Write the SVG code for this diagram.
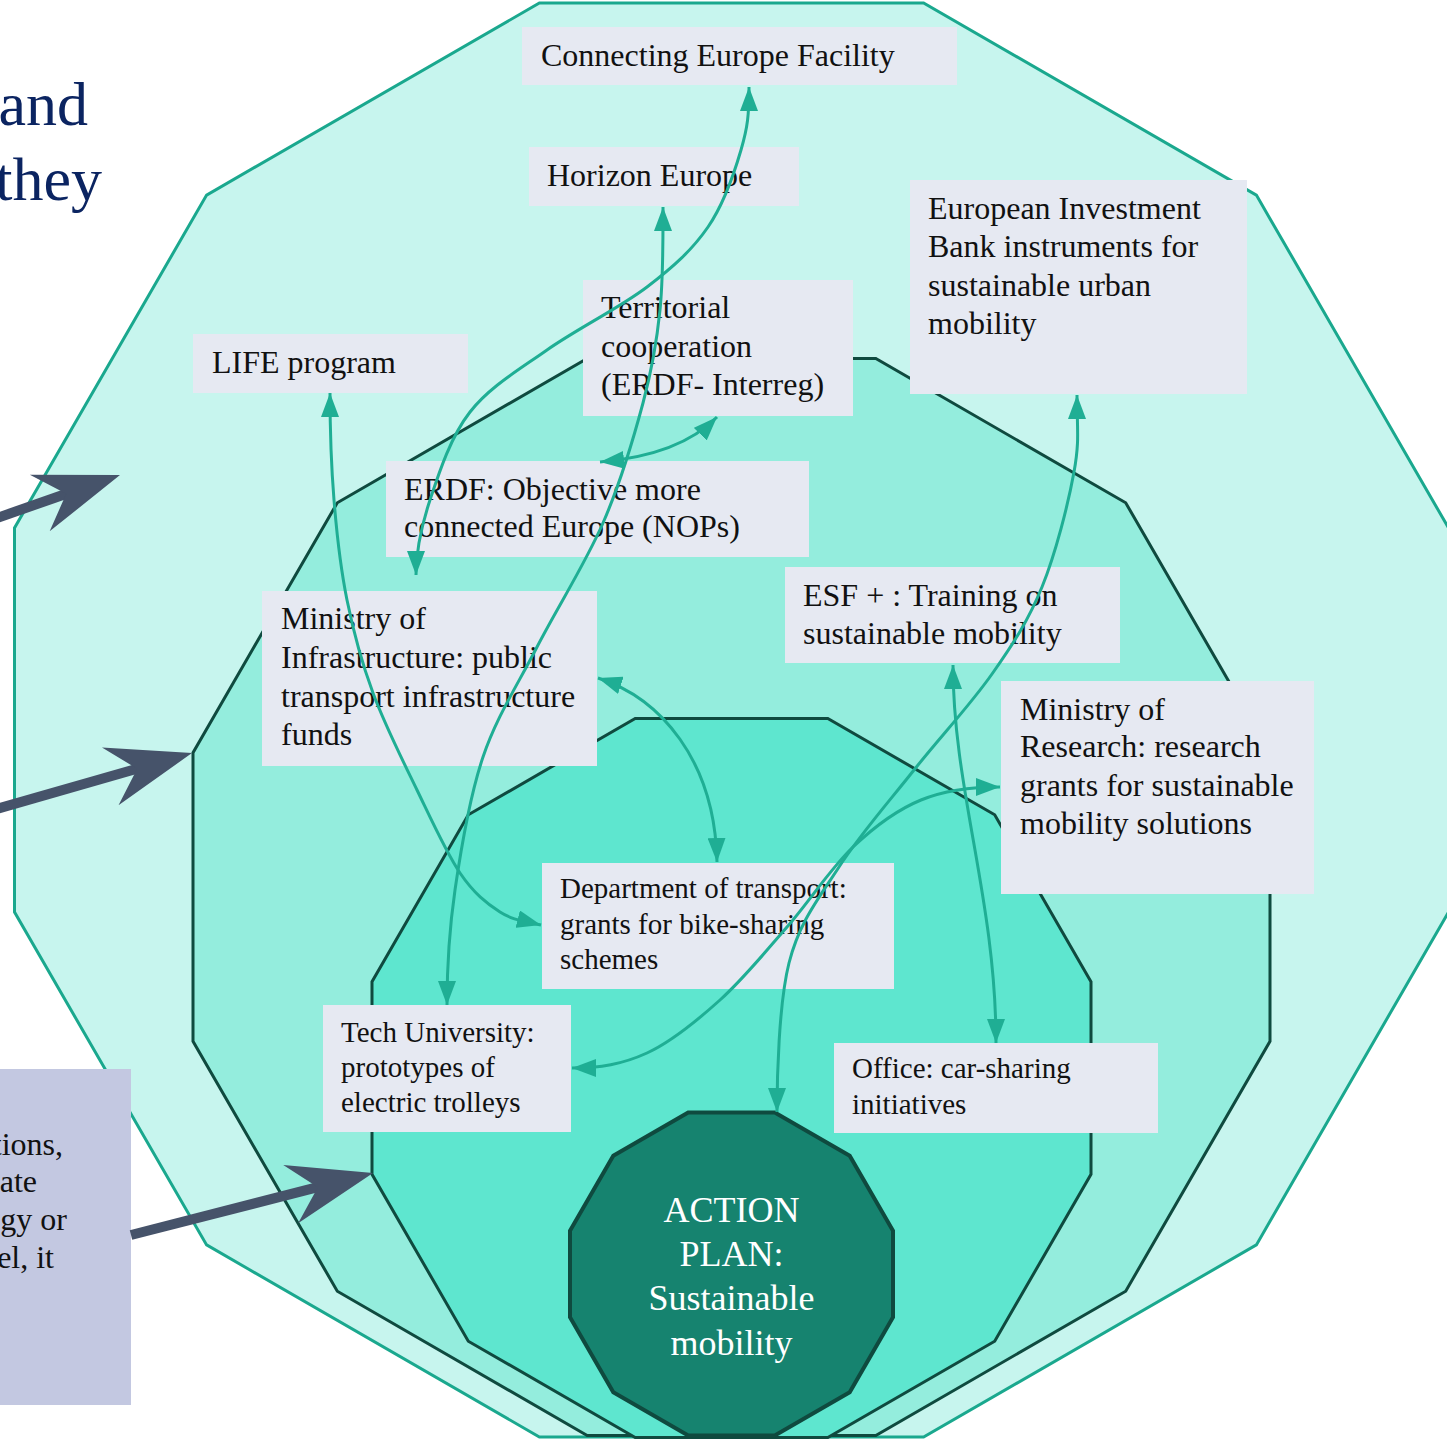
<svg xmlns="http://www.w3.org/2000/svg" width="1447" height="1440" viewBox="0 0 1447 1440">
<style>
.ring1{fill:#c7f5ee;stroke:#1aa88e;stroke-width:3;stroke-linejoin:miter}
.ring2{fill:#94eddd;stroke:#0f4a3f;stroke-width:3}
.ring3{fill:#5ee6cf;stroke:#0f4a3f;stroke-width:3}
.core{fill:#16836f;stroke:#0f4a3f;stroke-width:4}
.box{fill:#e6e9f2}
.t{font-family:"Liberation Serif","Times New Roman",serif;font-size:32px;fill:#111}
.ts{font-family:"Liberation Serif","Times New Roman",serif;font-size:29px;fill:#111}
.core-t{font-family:"Liberation Serif","Times New Roman",serif;font-size:36px;fill:#ffffff;text-anchor:middle}
.title{font-family:"Liberation Serif","Times New Roman",serif;font-size:62px;fill:#0b2461;text-anchor:end}
.conn{fill:none;stroke:#1fae94;stroke-width:3;marker-start:url(#ah);marker-end:url(#ah)}
.big{fill:none;stroke:#46536a;stroke-width:10;marker-end:url(#bigh)}
</style>
<defs>
<marker id="ah" markerUnits="userSpaceOnUse" viewBox="0 0 24 18" markerWidth="24" markerHeight="18" refX="24" refY="9" orient="auto-start-reverse">
<path d="M0,0 L24,9 L0,18 Z" fill="#1fae94"/>
</marker>
<marker id="bigh" markerUnits="userSpaceOnUse" viewBox="-90 -35 100 70" markerWidth="100" markerHeight="70" refX="-50" refY="0" orient="auto">
<path d="M0,0 L-85,-30 L-57,0 L-85,30 Z" fill="#46536a"/>
</marker>
</defs>

<g id="title-fragment">
<text class="title" x="88" y="125">and</text>
<text class="title" x="102" y="200">they</text>
</g>

<g id="ring-outer"><polygon class="ring1" points="1448.5,527.9 1256.4,195.1 923.6,3 539.4,3 206.6,195.1 14.5,527.9 14.5,912.1 206.6,1244.9 539.4,1437 923.6,1437 1256.4,1244.9 1448.5,912.1"/></g>
<g id="ring-middle"><polygon class="ring2" points="1270,752.7 1125.7,502.8 875.8,358.5 587.2,358.5 337.3,502.8 193,752.7 193,1041.3 337.3,1291.2 587.2,1435.5 875.8,1435.5 1125.7,1291.2 1270,1041.3"/></g>
<g id="ring-inner"><polygon class="ring3" points="1091,981.7 994.7,814.8 827.8,718.5 635.2,718.5 468.3,814.8 372,981.7 372,1174.3 468.3,1341.2 635.2,1437.5 827.8,1437.5 994.7,1341.2 1091,1174.3"/></g>

<g id="action-plan">
<polygon class="core" points="893,1230.7 849.7,1155.8 774.8,1112.5 688.2,1112.5 613.3,1155.8 570,1230.7 570,1317.3 613.3,1392.2 688.2,1435.5 774.8,1435.5 849.7,1392.2 893,1317.3"/>
<text class="core-t" x="731.5" y="1222">ACTION</text>
<text class="core-t" x="731.5" y="1266">PLAN:</text>
<text class="core-t" x="731.5" y="1310">Sustainable</text>
<text class="core-t" x="731.5" y="1355">mobility</text>
</g>

<g id="connecting-europe">
<rect class="box" x="522" y="27" width="435" height="58"/>
<text class="t" x="541" y="66">Connecting Europe Facility</text>
</g>
<g id="horizon-europe">
<rect class="box" x="529" y="147" width="270" height="59"/>
<text class="t" x="547" y="186">Horizon Europe</text>
</g>
<g id="eib">
<rect class="box" x="910" y="180" width="337" height="214"/>
<text class="t" x="928" y="219">European Investment</text>
<text class="t" x="928" y="257">Bank instruments for</text>
<text class="t" x="928" y="296">sustainable urban</text>
<text class="t" x="928" y="334">mobility</text>
</g>
<g id="territorial">
<rect class="box" x="583" y="280" width="270" height="136"/>
<text class="t" x="601" y="318">Territorial</text>
<text class="t" x="601" y="357">cooperation</text>
<text class="t" x="601" y="395">(ERDF- Interreg)</text>
</g>
<g id="life">
<rect class="box" x="193" y="334" width="275" height="59"/>
<text class="t" x="212" y="373">LIFE program</text>
</g>
<g id="erdf">
<rect class="box" x="386" y="461" width="423" height="96"/>
<text class="t" x="404" y="500">ERDF: Objective more</text>
<text class="t" x="404" y="537">connected Europe (NOPs)</text>
</g>
<g id="esf">
<rect class="box" x="785" y="567" width="335" height="96"/>
<text class="t" x="803" y="606">ESF + : Training on</text>
<text class="t" x="803" y="644">sustainable mobility</text>
</g>
<g id="ministry-infra">
<rect class="box" x="262" y="591" width="335" height="175"/>
<text class="t" x="281" y="629">Ministry of</text>
<text class="t" x="281" y="668">Infrastructure: public</text>
<text class="t" x="281" y="707">transport infrastructure</text>
<text class="t" x="281" y="745">funds</text>
</g>
<g id="ministry-research">
<rect class="box" x="1001" y="681" width="313" height="213"/>
<text class="t" x="1020" y="720">Ministry of</text>
<text class="t" x="1020" y="757">Research: research</text>
<text class="t" x="1020" y="796">grants for sustainable</text>
<text class="t" x="1020" y="834">mobility solutions</text>
</g>
<g id="dept-transport">
<rect class="box" x="542" y="863" width="352" height="126"/>
<text class="ts" x="560" y="898">Department of transport:</text>
<text class="ts" x="560" y="934">grants for bike-sharing</text>
<text class="ts" x="560" y="969">schemes</text>
</g>
<g id="tech-university">
<rect class="box" x="323" y="1005" width="248" height="127"/>
<text class="ts" x="341" y="1042">Tech University:</text>
<text class="ts" x="341" y="1077">prototypes of</text>
<text class="ts" x="341" y="1112">electric trolleys</text>
</g>
<g id="office">
<rect class="box" x="834" y="1043" width="324" height="90"/>
<text class="ts" x="852" y="1078">Office: car-sharing</text>
<text class="ts" x="852" y="1114">initiatives</text>
</g>

<g id="side-note">
<rect x="0" y="1069" width="131" height="336" fill="#c3c8e1"/>
<text class="t" x="63" y="1155" text-anchor="end">tions,</text>
<text class="t" x="37" y="1192" text-anchor="end">ate</text>
<text class="t" x="67" y="1230" text-anchor="end">gy or</text>
<text class="t" x="54" y="1268" text-anchor="end">el, it</text>
</g>

<g id="pointers">
<path class="big" d="M-21.6,524.5 L72.8,491.5"/>
<path class="big" d="M-19.5,813.6 L143.9,766.8"/>
<path class="big" d="M131,1235 L324.6,1185.4"/>
</g>

<g id="connectors">
<path class="conn" d="M749,87 C749,115 747.8,126.7 741,150 C734.2,173.3 723.7,204.2 708,227 C692.3,249.8 673.8,266.5 647,287 C620.2,307.5 576.5,329.2 547,350 C517.5,370.8 489.5,387 470,412 C450.5,437 439,472.8 430,500 C421,527.2 416,555 416,575"/>
<path class="conn" d="M663,207 C663,250 663.3,277.3 660,310 C656.7,342.7 652.5,367.5 643,403 C633.5,438.5 620.7,482.3 603,523 C585.3,563.7 557,608 537,647 C517,686 496.7,716.5 483,757 C469.3,797.5 461,848.7 455,890 C449,931.3 447,965 447,1005"/>
<path class="conn" d="M330,393 C330,430 331.2,465.5 334,500 C336.8,534.5 340.5,567.8 347,600 C353.5,632.2 361.3,661.3 373,693 C384.7,724.7 402.5,760 417,790 C431.5,820 446.2,852.7 460,873 C473.8,893.3 486.5,903.3 500,912 C513.5,920.7 525,921 541,925"/>
<path class="conn" d="M600,462 Q680,455 717,417"/>
<path class="conn" d="M598,678 C660,698 715,760 717,862"/>
<path class="conn" d="M1077,395 C1077,430 1079.8,440 1074,472 C1068.2,504 1055.7,553.3 1042,587 C1028.3,620.7 1013.3,643.5 992,674 C970.7,704.5 939.5,737.8 914,770 C888.5,802.2 859.8,834.8 839,867 C818.2,899.2 799.3,922.2 789,963 C778.7,1003.8 777,1080 777,1112"/>
<path class="conn" d="M953,665 C953,790 996,900 996,1043"/>
<path class="conn" d="M1000,787 C970,787 945.5,790 921,800 C896.5,810 875.3,825.8 853,847 C830.7,868.2 809.2,901.5 787,927 C764.8,952.5 743.3,979 720,1000 C696.7,1021 671.7,1041.7 647,1053 C622.3,1064.3 600,1068 572,1068"/>
</g>
</svg>
